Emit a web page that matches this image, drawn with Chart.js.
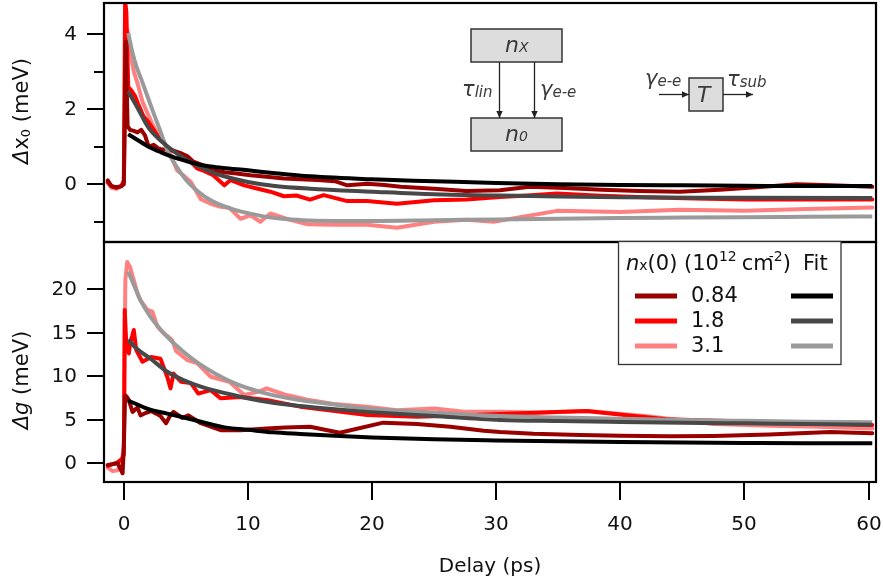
<!DOCTYPE html>
<html><head><meta charset="utf-8">
<script src="https://cdn.jsdelivr.net/npm/chart.js@4"></script>
<style>
html,body{margin:0;padding:0;background:#fff;}
#wrap{position:relative;width:883px;height:588px;overflow:hidden;}
canvas{position:absolute;left:0;top:0;}
</style></head><body>
<div id="wrap"><canvas id="c1" width="883" height="588"></canvas><canvas id="c2" width="883" height="588"></canvas></div>
<script>
// ---------- axis ranges and ticks ----------
const X_MIN = -1.6, X_MAX = 60.6;
const TOP_Y_MIN = -1.54, TOP_Y_MAX = 4.83;
const BOT_Y_MIN = -2.15, BOT_Y_MAX = 25.4;
const xTicks = [0, 10, 20, 30, 40, 50, 60];
const topYTicks = [-1, 0, 1, 2, 3, 4];
const topYLabeled = [0, 2, 4];
const botYTicks = [0, 5, 10, 15, 20];
const densities = ['0.84', '1.8', '3.1'];

// ---------- top panel: Δx0 data ----------
const dx0_084_t = [-1.3,-1.0,-0.6,-0.2,0.0,0.15,0.3,0.5,0.8,1.1,1.4,1.7,2.0,2.4,2.8,3.2,3.6,4.1,4.6,5.1,5.6,6.4,7.2,8.1,8.9,10.2,11.5,12.9,14.2,15.6,17.0,18.0,19.6,21.0,22.3,25.0,27.6,30.3,32.7,35.5,38.5,41.5,44.8,48.0,51.0,54.2,57.0,60.3];
const dx0_084_v = [0.1,-0.05,-0.08,-0.05,0.0,3.8,1.55,1.45,1.42,1.38,1.45,1.3,1.0,1.05,0.95,0.92,0.95,0.88,0.82,0.75,0.6,0.5,0.37,0.32,0.29,0.24,0.2,0.15,0.13,0.11,0.08,-0.03,0.01,-0.02,-0.07,-0.12,-0.18,-0.16,-0.07,-0.1,-0.15,-0.18,-0.2,-0.15,-0.08,0.0,-0.03,-0.07];
const dx0_18_t = [-1.3,-1.0,-0.6,-0.2,0.0,0.1,0.2,0.35,0.6,0.9,1.2,1.6,2.0,2.4,2.8,3.2,3.5,4.0,4.6,5.1,5.9,6.5,7.2,8.1,8.6,9.7,10.8,11.8,12.9,13.9,15.0,16.1,18.0,19.6,22.0,25.0,27.6,30.3,32.5,34.9,38.0,42.0,46.0,50.2,55.0,60.3];
const dx0_18_v = [0.05,-0.05,-0.1,-0.05,0.1,4.9,4.6,2.6,2.5,2.35,2.1,1.8,1.65,1.45,1.25,1.15,0.95,0.88,0.82,0.7,0.42,0.35,0.24,-0.03,0.11,-0.03,-0.12,-0.2,-0.32,-0.3,-0.41,-0.29,-0.45,-0.45,-0.52,-0.43,-0.41,-0.34,-0.3,-0.25,-0.3,-0.35,-0.38,-0.41,-0.41,-0.41];
const dx0_31_t = [-1.3,-1.0,-0.6,-0.2,0.0,0.15,0.3,0.5,0.8,1.1,1.5,1.9,2.3,2.7,3.1,3.5,4.0,4.3,4.6,5.4,6.2,7.0,7.8,8.5,9.4,10.2,11.0,11.8,13.1,14.8,17.0,19.6,22.0,25.0,27.6,29.8,34.9,40.0,44.8,50.0,55.0,60.3];
const dx0_31_v = [0.05,-0.1,-0.12,-0.05,0.05,3.0,4.1,3.6,3.0,2.69,2.2,1.9,1.6,1.36,1.15,1.0,0.6,0.37,0.29,0.06,-0.4,-0.52,-0.6,-0.63,-0.92,-0.83,-1.0,-0.78,-0.92,-1.07,-1.08,-1.08,-1.16,-1.0,-0.95,-1.0,-0.71,-0.74,-0.68,-0.71,-0.66,-0.62];
// top panel fits
const dx0fit_084_t = [0.35,1,2,3,4,5,6,7,8,10,12,15,20,25,30,35,40,45,50,55,60.3];
const dx0fit_084_v = [1.33,1.2,1.0,0.85,0.72,0.62,0.53,0.47,0.43,0.37,0.3,0.21,0.13,0.08,0.03,0.0,-0.02,-0.03,-0.04,-0.05,-0.05];
const dx0fit_18_t = [0.35,1,2,3,4,5,6,7,8,10,12,15,20,25,30,35,40,50,60.3];
const dx0fit_18_v = [2.47,2.1,1.5,1.15,0.88,0.66,0.48,0.33,0.22,0.06,-0.04,-0.12,-0.2,-0.27,-0.3,-0.33,-0.35,-0.36,-0.37];
const dx0fit_31_t = [0.35,0.7,1.0,1.4,2.0,2.5,3.0,3.5,4.0,5.0,6.0,7.0,8.0,9.0,10.0,11.5,13,15,17,20,25,30,35,40,45,50,55,60.3];
const dx0fit_31_v = [4.03,3.5,3.15,2.8,2.25,1.8,1.36,0.9,0.6,0.12,-0.2,-0.43,-0.58,-0.69,-0.77,-0.87,-0.93,-0.97,-0.98,-0.98,-0.96,-0.94,-0.92,-0.9,-0.89,-0.88,-0.87,-0.86];

// ---------- bottom panel: Δg data ----------
const dg_084_t = [-1.3,-0.9,-0.5,-0.1,0.0,0.1,0.25,0.4,0.7,1.1,1.34,1.8,2.2,2.6,2.95,3.4,3.7,4.0,4.7,5.2,6.2,7.8,9.4,11.5,13.0,15.0,17.4,20.9,23.6,26.3,29.0,30.3,33.0,36.8,40.0,44.0,47.5,52.0,56.9,60.3];
const dg_084_v = [-0.2,-0.1,0.0,-1.15,2.0,7.8,7.6,7.26,5.9,6.4,5.5,5.8,6.0,5.7,5.42,4.6,5.4,5.9,5.2,5.5,4.6,3.8,3.8,4.0,4.1,4.2,3.5,4.66,4.5,4.2,3.74,3.6,3.4,3.25,3.15,3.1,3.13,3.3,3.6,3.44];
const dg_18_t = [-1.3,-0.9,-0.5,-0.15,0.0,0.07,0.2,0.4,0.5,0.8,1.0,1.5,2.2,2.95,3.5,3.76,4.0,4.6,5.4,6.0,7.0,7.8,9.4,11.5,14.2,17.0,19.6,23.6,27.6,30.3,33.0,37.3,40.5,43.7,50.0,55.0,60.3];
const dg_18_v = [-0.3,-0.1,0.1,0.5,1.0,17.6,13.5,12.6,13.7,15.3,13.0,11.65,12.2,12.0,9.9,8.6,10.3,9.36,9.2,8.0,8.4,7.45,7.6,7.26,6.5,6.0,5.54,5.35,5.5,5.65,5.8,6.0,5.5,5.04,4.8,4.6,4.4];
const dg_31_t = [-1.3,-0.9,-0.5,-0.2,0.0,0.12,0.27,0.5,0.8,1.1,1.34,1.9,2.3,2.7,3.2,3.6,3.9,4.2,5.1,5.9,7.0,8.5,9.7,10.8,11.5,13.1,14.8,16.9,19.6,22.0,25.0,27.6,30.3,33.5,37.3,42.2,47.5,52.0,56.0,60.3];
const dg_31_v = [-0.5,-0.9,-0.8,-0.3,2.0,21.0,23.1,22.5,21.0,19.5,18.7,17.6,17.4,15.7,14.9,14.5,14.1,12.9,11.85,11.5,9.93,9.36,7.83,8.2,8.6,7.83,7.3,6.8,6.5,6.1,6.3,5.9,5.9,5.8,6.0,5.4,4.5,4.3,4.2,4.0];
// bottom panel fits
const dgfit_084_t = [0.35,1,2,3.5,5,6.2,8,10,12,14.2,17,20,25,30,35,40,45,50,55,60.3];
const dgfit_084_v = [7.2,6.8,6.2,5.7,5.2,4.77,4.15,3.85,3.55,3.36,3.15,2.97,2.75,2.62,2.52,2.44,2.38,2.34,2.31,2.3];
const dgfit_18_t = [0.35,1,2.15,3.5,4.8,6.2,8.9,11.5,14.2,17,19.6,25,30.3,35,40,45,50,55,60.3];
const dgfit_18_v = [14.2,13.2,12.0,10.5,9.55,8.8,7.8,7.06,6.57,6.2,5.9,5.42,4.97,4.85,4.75,4.66,4.58,4.5,4.42];
const dgfit_31_t = [0.35,0.8,1.34,2.15,3.5,4.8,6.2,8.9,11.5,14.2,17,19.6,25,30.3,35,40,45,50,55,60.3];
const dgfit_31_v = [22.0,20.5,18.7,16.8,14.5,12.8,11.3,9.2,8.0,7.26,6.75,6.3,5.8,5.42,5.25,5.1,4.97,4.87,4.78,4.7];

// ---------- styles ----------
const dataColors = ['#990000', '#ff0000', '#ff8080'];
const fitColors = ['#000000', '#484848', '#9a9a9a'];
const FONT = 'DejaVu Sans';
const TXT = '#111';
Chart.defaults.font.family = FONT;
Chart.defaults.color = TXT;

function pts(t, v) { return t.map((x, i) => ({x: x, y: v[i]})); }
function dataDs(t, v, c) { return {data: pts(t, v), borderColor: c, borderWidth: 4, pointRadius: 0, tension: 0, borderJoinStyle: 'round', borderCapStyle: 'round'}; }
function fitDs(t, v, c) { return {data: pts(t, v), borderColor: c, borderWidth: 4, pointRadius: 0, cubicInterpolationMode: 'monotone', borderCapStyle: 'butt'}; }

function runs(ctx, x, y, list) {
  let cx = x;
  for (const r of list) {
    ctx.font = r.font;
    ctx.fillText(r.text, cx, y + (r.dy || 0));
    cx += ctx.measureText(r.text).width + (r.kern || 0);
  }
  return cx;
}
function runsWidth(ctx, list) {
  let w = 0;
  for (const r of list) { ctx.font = r.font; w += ctx.measureText(r.text).width + (r.kern || 0); }
  return w;
}
function rotatedTitle(ctx, cx, cy, list) {
  ctx.save();
  ctx.translate(cx, cy);
  ctx.rotate(-Math.PI / 2);
  ctx.fillStyle = TXT;
  ctx.textBaseline = 'middle';
  ctx.textAlign = 'left';
  const w = runsWidth(ctx, list);
  runs(ctx, -w / 2, 0, list);
  ctx.restore();
}
function arrow(ctx, x1, y1, x2, y2) {
  ctx.beginPath(); ctx.moveTo(x1, y1); ctx.lineTo(x2, y2); ctx.stroke();
  const a = Math.atan2(y2 - y1, x2 - x1), L = 7, W = 3.2;
  ctx.beginPath();
  ctx.moveTo(x2, y2);
  ctx.lineTo(x2 - L * Math.cos(a) + W * Math.sin(a), y2 - L * Math.sin(a) - W * Math.cos(a));
  ctx.lineTo(x2 - L * Math.cos(a) - W * Math.sin(a), y2 - L * Math.sin(a) + W * Math.cos(a));
  ctx.closePath(); ctx.fill();
}
// y ticks + labels, drawn from the scale
function drawYAxis(ctx, area, ys, ticks, labeled) {
  ctx.save();
  ctx.strokeStyle = '#000'; ctx.lineWidth = 2;
  ctx.fillStyle = TXT; ctx.font = '20px ' + FONT;
  ctx.textAlign = 'right'; ctx.textBaseline = 'middle';
  ticks.forEach(v => {
    const p = Math.round(ys.getPixelForValue(v));
    const major = labeled.includes(v);
    ctx.beginPath(); ctx.moveTo(area.left - (major ? 17 : 10), p); ctx.lineTo(area.left, p); ctx.stroke();
    if (major) ctx.fillText(String(v), area.left - 27, p + 1);
  });
  ctx.restore();
}

const framePlugin = {
  id: 'frame',
  afterDatasetsDraw(chart) {
    const {ctx, chartArea: a} = chart;
    ctx.save();
    ctx.strokeStyle = '#000';
    ctx.lineWidth = 2.2;
    ctx.strokeRect(a.left, a.top, a.right - a.left, a.bottom - a.top);
    ctx.restore();
  }
};

// ---------- top chart ----------
const topPlugin = {
  id: 'topDeco',
  afterDraw(chart) {
    const {ctx, chartArea: a} = chart;
    drawYAxis(ctx, a, chart.scales.y, topYTicks, topYLabeled);
    ctx.save();
    rotatedTitle(ctx, 23, 111, [
      {text: 'Δ', font: 'italic 21px ' + FONT},
      {text: 'x', font: '21px ' + FONT},
      {text: '0', font: '13px ' + FONT, dy: 4},
      {text: ' (meV)', font: '21px ' + FONT}
    ]);
    // inset diagram
    const ink = '#3a3a3a';
    ctx.lineWidth = 1.5; ctx.strokeStyle = '#333'; ctx.fillStyle = '#dddddd';
    [[471, 29, 91, 33], [471, 118, 91, 33], [689, 78, 34, 33]].forEach(b => {
      ctx.fillRect(b[0], b[1], b[2], b[3]); ctx.strokeRect(b[0], b[1], b[2], b[3]);
    });
    ctx.strokeStyle = '#222'; ctx.fillStyle = '#222'; ctx.lineWidth = 1.3;
    arrow(ctx, 499.5, 62, 499.5, 118);
    arrow(ctx, 534.5, 62, 534.5, 118);
    arrow(ctx, 659, 94.5, 689, 94.5);
    arrow(ctx, 723, 94.5, 753, 94.5);
    ctx.fillStyle = ink; ctx.textBaseline = 'alphabetic'; ctx.textAlign = 'left';
    const I = s => 'italic ' + s + 'px ' + FONT;
    runs(ctx, 505, 51.5, [{text: 'n', font: I(22)}, {text: 'X', font: I(14)}]);
    runs(ctx, 505, 140.5, [{text: 'n', font: I(22)}, {text: '0', font: I(14)}]);
    runs(ctx, 462, 96, [{text: 'τ', font: I(21)}, {text: 'lin', font: I(15), dy: 1}]);
    runs(ctx, 540, 96, [{text: 'γ', font: I(21)}, {text: 'e-e', font: I(15), dy: 1}]);
    runs(ctx, 645, 85, [{text: 'γ', font: I(21)}, {text: 'e-e', font: I(15), dy: 1}]);
    runs(ctx, 727, 86, [{text: 'τ', font: I(21)}, {text: 'sub', font: I(15), dy: 1}]);
    runs(ctx, 697, 101.5, [{text: 'T', font: I(22)}]);
    ctx.restore();
  }
};

new Chart(document.getElementById('c1'), {
  type: 'line',
  data: { datasets: [
    fitDs(dx0fit_084_t, dx0fit_084_v, fitColors[0]),
    fitDs(dx0fit_18_t, dx0fit_18_v, fitColors[1]),
    fitDs(dx0fit_31_t, dx0fit_31_v, fitColors[2]),
    dataDs(dx0_084_t, dx0_084_v, dataColors[0]),
    dataDs(dx0_18_t, dx0_18_v, dataColors[1]),
    dataDs(dx0_31_t, dx0_31_v, dataColors[2])
  ]},
  options: {
    responsive: false, animation: false, devicePixelRatio: 1,
    layout: { padding: {left: 104, top: 3, right: 7, bottom: 346} },
    plugins: { legend: {display: false}, tooltip: {enabled: false} },
    scales: {
      x: { type: 'linear', min: X_MIN, max: X_MAX, display: false },
      y: { type: 'linear', min: TOP_Y_MIN, max: TOP_Y_MAX, display: false }
    }
  },
  plugins: [framePlugin, topPlugin]
});

// ---------- bottom chart ----------
const botPlugin = {
  id: 'botDeco',
  afterDraw(chart) {
    const {ctx, chartArea: a} = chart;
    drawYAxis(ctx, a, chart.scales.y, botYTicks, botYTicks);
    ctx.save();
    // x ticks and labels
    const xs = chart.scales.x;
    ctx.strokeStyle = '#000'; ctx.lineWidth = 2;
    ctx.fillStyle = TXT; ctx.font = '20px ' + FONT; ctx.textAlign = 'center'; ctx.textBaseline = 'middle';
    xTicks.forEach(v => {
      const p = Math.round(xs.getPixelForValue(v));
      ctx.beginPath(); ctx.moveTo(p, a.bottom); ctx.lineTo(p, a.bottom + 18); ctx.stroke();
      ctx.fillText(String(v), p, a.bottom + 43);
    });
    ctx.fillText('Delay (ps)', (a.left + a.right) / 2, a.bottom + 85);
    rotatedTitle(ctx, 23, 380, [
      {text: 'Δ', font: 'italic 21px ' + FONT},
      {text: 'g', font: 'italic 21px ' + FONT},
      {text: ' (meV)', font: '21px ' + FONT}
    ]);
    // legend
    const L = 618.5, T = 241.5, W = 222.5, H = 123;
    ctx.fillStyle = '#fff'; ctx.fillRect(L, T, W, H);
    ctx.strokeStyle = '#333'; ctx.lineWidth = 1.3; ctx.strokeRect(L, T, W, H);
    ctx.fillStyle = TXT; ctx.textAlign = 'left'; ctx.textBaseline = 'alphabetic';
    const F = s => s + 'px ' + FONT;
    runs(ctx, 626, 270, [
      {text: 'n', font: 'italic ' + F(21)},
      {text: 'x', font: F(14)},
      {text: '(0) (10', font: F(21)},
      {text: '12', font: F(14), dy: -9, kern: 5},
      {text: 'cm', font: F(21), kern: -5},
      {text: '-2', font: F(14), dy: -9},
      {text: ')', font: F(21)}
    ]);
    ctx.font = F(21); ctx.fillText('Fit', 803, 270);
    const rowY = [296, 321, 346];
    ctx.lineWidth = 5; ctx.lineCap = 'butt';
    rowY.forEach((y, i) => {
      ctx.strokeStyle = dataColors[i];
      ctx.beginPath(); ctx.moveTo(635, y); ctx.lineTo(677, y); ctx.stroke();
      ctx.strokeStyle = fitColors[i];
      ctx.beginPath(); ctx.moveTo(791, y); ctx.lineTo(833, y); ctx.stroke();
      ctx.fillStyle = TXT; ctx.font = F(21); ctx.textBaseline = 'middle';
      ctx.fillText(densities[i], 691, y + 1);
    });
    ctx.restore();
  }
};

new Chart(document.getElementById('c2'), {
  type: 'line',
  data: { datasets: [
    fitDs(dgfit_084_t, dgfit_084_v, fitColors[0]),
    fitDs(dgfit_18_t, dgfit_18_v, fitColors[1]),
    fitDs(dgfit_31_t, dgfit_31_v, fitColors[2]),
    dataDs(dg_084_t, dg_084_v, dataColors[0]),
    dataDs(dg_18_t, dg_18_v, dataColors[1]),
    dataDs(dg_31_t, dg_31_v, dataColors[2])
  ]},
  options: {
    responsive: false, animation: false, devicePixelRatio: 1,
    layout: { padding: {left: 104, top: 242, right: 7, bottom: 106} },
    plugins: { legend: {display: false}, tooltip: {enabled: false} },
    scales: {
      x: { type: 'linear', min: X_MIN, max: X_MAX, display: false },
      y: { type: 'linear', min: BOT_Y_MIN, max: BOT_Y_MAX, display: false }
    }
  },
  plugins: [framePlugin, botPlugin]
});
</script>
</body></html>
